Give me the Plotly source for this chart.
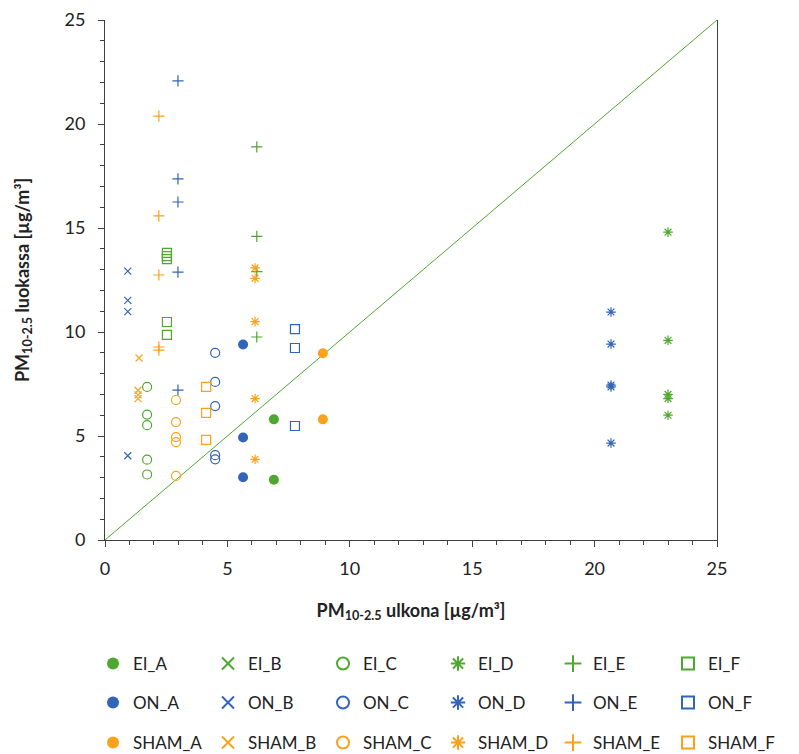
import plotly.graph_objects as go

# Data: (outdoor x, indoor y) per series
EI_A_x = [6.9, 6.9]
EI_A_y = [5.8, 2.9]
EI_B_x = [None]
EI_B_y = [None]
EI_C_x = [1.72, 1.72, 1.72, 1.72, 1.72]
EI_C_y = [7.36, 6.03, 5.52, 3.86, 3.15]
EI_D_x = [23.0, 23.0, 23.0, 23.0, 23.0]
EI_D_y = [14.8, 9.6, 7.0, 6.8, 6.0]
EI_E_x = [6.2, 6.2, 6.2, 6.2]
EI_E_y = [18.9, 14.6, 12.9, 9.76]
EI_F_x = [2.53, 2.53, 2.53, 2.53, 2.53]
EI_F_y = [13.8, 13.65, 13.5, 10.48, 9.86]

ON_A_x = [5.64, 5.64, 5.64]
ON_A_y = [9.4, 4.93, 3.02]
ON_B_x = [0.93, 0.93, 0.93, 0.93]
ON_B_y = [12.93, 11.52, 10.98, 4.05]
ON_C_x = [4.5, 4.5, 4.5, 4.5, 4.5]
ON_C_y = [9.0, 7.6, 6.44, 4.08, 3.88]
ON_D_x = [20.67, 20.67, 20.67, 20.67, 20.67]
ON_D_y = [10.96, 9.42, 7.45, 7.36, 4.66]
ON_E_x = [2.98, 2.98, 2.98, 2.98, 2.98]
ON_E_y = [22.07, 17.36, 16.25, 12.88, 7.21]
ON_F_x = [7.76, 7.76, 7.76]
ON_F_y = [10.14, 9.23, 5.48]

SHAM_A_x = [8.9, 8.9]
SHAM_A_y = [8.98, 5.8]
SHAM_B_x = [1.39, 1.35, 1.35, 1.35]
SHAM_B_y = [8.75, 7.2, 6.98, 6.8]
SHAM_C_x = [2.9, 2.9, 2.9, 2.9, 2.9]
SHAM_C_y = [6.73, 5.67, 4.95, 4.71, 3.08]
SHAM_D_x = [6.13, 6.13, 6.13, 6.13, 6.13]
SHAM_D_y = [13.08, 12.58, 10.5, 6.8, 3.88]
SHAM_E_x = [2.2, 2.2, 2.2, 2.2, 2.2]
SHAM_E_y = [20.38, 15.58, 12.74, 9.28, 9.13]
SHAM_F_x = [4.13, 4.13, 4.13]
SHAM_F_y = [7.36, 6.11, 4.81]

diag_x = [0, 25]
diag_y = [0, 25]

GREEN = "#4EA72E"
BLUE = "#3264B8"
ORANGE = "#FAA21B"

groups = [("EI", GREEN, "legend"), ("ON", BLUE, "legend2"), ("SHAM", ORANGE, "legend3")]
symbols = {
    "A": ("circle", 10),
    "B": ("x-thin-open", 7),
    "C": ("circle-open", 9),
    "D": ("asterisk-open", 8),
    "E": ("cross-thin-open", 8),
    "F": ("square-open", 9),
}

data = {
    "EI_A": (EI_A_x, EI_A_y), "EI_B": (EI_B_x, EI_B_y), "EI_C": (EI_C_x, EI_C_y),
    "EI_D": (EI_D_x, EI_D_y), "EI_E": (EI_E_x, EI_E_y), "EI_F": (EI_F_x, EI_F_y),
    "ON_A": (ON_A_x, ON_A_y), "ON_B": (ON_B_x, ON_B_y), "ON_C": (ON_C_x, ON_C_y),
    "ON_D": (ON_D_x, ON_D_y), "ON_E": (ON_E_x, ON_E_y), "ON_F": (ON_F_x, ON_F_y),
    "SHAM_A": (SHAM_A_x, SHAM_A_y), "SHAM_B": (SHAM_B_x, SHAM_B_y),
    "SHAM_C": (SHAM_C_x, SHAM_C_y), "SHAM_D": (SHAM_D_x, SHAM_D_y),
    "SHAM_E": (SHAM_E_x, SHAM_E_y), "SHAM_F": (SHAM_F_x, SHAM_F_y),
}

fig = go.Figure()

fig.add_trace(go.Scatter(x=diag_x, y=diag_y, mode="lines",
                         line=dict(color=GREEN, width=1), showlegend=False,
                         hoverinfo="skip"))

for g, col, leg in groups:
    for k in "ABCDEF":
        name = f"{g}_{k}"
        xs, ys = data[name]
        sym, sz = symbols[k]
        fig.add_trace(go.Scatter(
            x=xs, y=ys, mode="markers", name=name, legend=leg,
            marker=dict(symbol=sym, size=sz, color=col,
                        line=dict(color=col, width=1.2 if k != "A" else 0)),
        ))

axis_common = dict(
    range=[0, 25], dtick=5, tick0=0,
    showgrid=False, zeroline=False,
    showline=True, linecolor="#404040", linewidth=1,
    ticks="outside", ticklen=6, tickcolor="#404040",
    minor=dict(ticks="outside", ticklen=4, dtick=1, tickcolor="#404040", showgrid=False),
    tickfont=dict(family="Lato, Open Sans, sans-serif", size=18, color="#222"),
)

legend_common = dict(orientation="h", xref="paper", yref="paper",
                     x=-0.0196, xanchor="left", yanchor="top",
                     entrywidth=70, entrywidthmode="pixels",
                     font=dict(size=17, color="#222"), itemsizing="constant",
                     traceorder="normal", bgcolor="rgba(0,0,0,0)")

fig.update_layout(
    width=799, height=754,
    margin=dict(l=105, r=82, t=20, b=214, autoexpand=False),
    paper_bgcolor="white", plot_bgcolor="white",
    font=dict(family="Lato, Open Sans, sans-serif", color="#222"),
    xaxis=dict(**axis_common, ticklabelstandoff=6,
               title=dict(text="<b>PM<sub>10-2.5</sub> ulkona [µg/m³]</b>",
                          font=dict(size=18), standoff=26)),
    yaxis=dict(**axis_common, mirror=True, ticklabelstandoff=9,
               title=dict(text="<b>PM<sub>10-2.5</sub> luokassa [µg/m³]</b>",
                          font=dict(size=18), standoff=30)),
    legend=dict(**legend_common, y=-0.2038),
    legend2=dict(**legend_common, y=-0.2788),
    legend3=dict(**legend_common, y=-0.3558),
)

fig.write_html("out.html")
